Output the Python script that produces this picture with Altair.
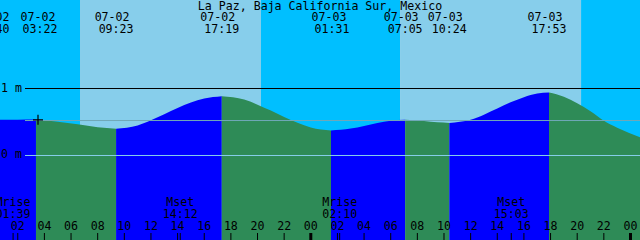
import altair as alt
import pandas as pd

# ---------------- data (hours since 07-02 00:00, levels in metres) ----------------
title_text = "La Paz, Baja California Sur, Mexico"

# tide extremes
ext_times = [0.667, 3.367, 9.383, 17.317, 25.517, 31.083, 34.4, 41.883]
ext_levels = [0.532, 0.538, 0.400, 0.885, 0.375, 0.535, 0.486, 0.940]
ext_kinds = ["low", "high", "low", "high", "low", "high", "low", "high"]
ext_dates = ["07-02", "07-02", "07-02", "07-02", "07-03", "07-03", "07-03", "07-03"]
ext_clock = ["00:40", "03:22", "09:23", "17:19", "01:31", "07:05", "10:24", "17:53"]

# water level read between the extremes
mid_times = [2.0, 5, 6.5, 8, 11, 12, 13, 14, 15, 16, 19, 20, 21, 22, 23, 24,
             27, 28, 29, 30, 32.5, 33.5, 36, 37, 38, 39, 40, 41, 43, 44, 45, 46, 47, 48.715]
mid_levels = [0.535, 0.505, 0.465, 0.420, 0.447, 0.525, 0.615, 0.708, 0.790, 0.850,
              0.834, 0.759, 0.670, 0.576, 0.487, 0.417,
              0.402, 0.442, 0.486, 0.520, 0.516, 0.495, 0.532, 0.609, 0.700, 0.793,
              0.870, 0.925, 0.877, 0.780, 0.660, 0.517, 0.415, 0.274]

# day / night
sky_start = [0.667, 6.673, 20.26, 30.70, 44.29]
sky_end = [6.673, 20.26, 30.70, 44.29, 48.715]
sky_kind = ["night", "day", "night", "day", "night"]

# moon events
moon_times = [1.65, 14.2, 26.167, 39.05]
moon_kind = ["Mrise", "Mset", "Mrise", "Mset"]
moon_clock = ["01:39", "14:12", "02:10", "15:03"]

# hour ticks
tick_hours = [2, 4, 6, 8, 10, 12, 14, 16, 18, 20, 22, 24,
              26, 28, 30, 32, 34, 36, 38, 40, 42, 44, 46, 48]
tick_labels = ["02", "04", "06", "08", "10", "12", "14", "16", "18", "20", "22", "00",
               "02", "04", "06", "08", "10", "12", "14", "16", "18", "20", "22", "00"]

depth_levels = [1.0, 0.0]
depth_labels = ["1 m", "0 m"]
depth_colors = ["#000000", "#87CEEB"]
msl_level = 0.522
mark_time = 3.52
mark_level = 0.532

# ---------------- layout ----------------
X_DOMAIN = [0.667, 48.715]
Y_DOMAIN = [-1.2612, 2.3209]
PX_PER_HOUR = 640 / (X_DOMAIN[1] - X_DOMAIN[0])
FONT = "DejaVu Sans Mono"
FS = 11.6
# horizontal nudges (px) of the top labels, as placed in the reference
date_shift_px = [-8, 2, -4, -4, -2, -4, -4, -4]
time_shift_px = [-8, 4, 0, 0, 1, 0, 0, 0]

xs = alt.Scale(domain=X_DOMAIN, nice=False, zero=False)
ys = alt.Scale(domain=Y_DOMAIN, nice=False, zero=False)

# ---------------- build tables ----------------
samples = sorted(list(zip(ext_times, ext_levels)) + list(zip(mid_times, mid_levels)))
rows = []
for i, et in enumerate(ext_times):
    end = ext_times[i + 1] if i + 1 < len(ext_times) else 1e9
    phase = "rise" if ext_kinds[i] == "low" else "fall"
    for t, h in samples:
        if et <= t <= end:
            rows.append({"t": t, "h": h, "seg": i, "phase": phase})
water_df = pd.DataFrame(rows)

sky_df = pd.DataFrame({"start": sky_start, "end": sky_end, "kind": sky_kind})
ext_df = pd.DataFrame({
    "td": [t + s / PX_PER_HOUR for t, s in zip(ext_times, date_shift_px)],
    "tt": [t + s / PX_PER_HOUR for t, s in zip(ext_times, time_shift_px)],
    "date": ext_dates, "clock": ext_clock})
moon_df = pd.DataFrame({"t": moon_times, "kind": moon_kind, "clock": moon_clock})
tick_df = pd.DataFrame({"t": tick_hours, "label": tick_labels,
                        "w": [3 if l == "00" else 1 for l in tick_labels]})
depth_df = pd.DataFrame({"h": depth_levels, "label": depth_labels, "col": depth_colors})
msl_df = pd.DataFrame({"h": [msl_level]})
mark_df = pd.DataFrame({"t": [mark_time], "h": [mark_level]})
title_df = pd.DataFrame({"text": [title_text]})


def txt(df, align="center", baseline="alphabetic"):
    return alt.Chart(df).mark_text(align=align, baseline=baseline, font=FONT,
                                   fontSize=FS, color="black")


# ---------------- layers ----------------
sky = alt.Chart(sky_df).mark_rect().encode(
    x=alt.X("start:Q", scale=xs, axis=None),
    x2="end:Q",
    y=alt.value(0), y2=alt.value(240),
    color=alt.Color("kind:N", scale=alt.Scale(domain=["day", "night"],
                                              range=["#87CEEB", "#00BFFF"]), legend=None),
)

water = alt.Chart(water_df).mark_area(interpolate="monotone").encode(
    x=alt.X("t:Q", scale=xs, axis=None),
    y=alt.Y("h:Q", scale=ys, axis=None, stack=None),
    y2=alt.value(240),
    color=alt.Color("phase:N", scale=alt.Scale(domain=["rise", "fall"],
                                               range=["#0000FF", "#2E8B57"]), legend=None),
    detail="seg:N",
)

msl = alt.Chart(msl_df).mark_rule(color="#70A8B8", strokeWidth=1).encode(
    y=alt.Y("h:Q", scale=ys, axis=None),
    x=alt.value(25), x2=alt.value(640),
)

depth = alt.Chart(depth_df).mark_rule(strokeWidth=1).encode(
    y=alt.Y("h:Q", scale=ys, axis=None),
    x=alt.value(25), x2=alt.value(640),
    color=alt.Color("col:N", scale=None),
)

depth_txt = txt(depth_df, align="left", baseline="middle").encode(
    y=alt.Y("h:Q", scale=ys, axis=None),
    x=alt.value(1),
    text="label:N",
)

title = txt(title_df).encode(x=alt.value(320), y=alt.value(9.5), text="text:N")

ext_date_txt = txt(ext_df).encode(
    x=alt.X("td:Q", scale=xs, axis=None), y=alt.value(20.7), text="date:N")
ext_time_txt = txt(ext_df).encode(
    x=alt.X("tt:Q", scale=xs, axis=None), y=alt.value(33.3), text="clock:N")

moon_kind_txt = txt(moon_df).encode(
    x=alt.X("t:Q", scale=xs, axis=None), y=alt.value(206), text="kind:N")
moon_time_txt = txt(moon_df).encode(
    x=alt.X("t:Q", scale=xs, axis=None), y=alt.value(218.3), text="clock:N")
moon_ticks = alt.Chart(moon_df).mark_rule(color="black", strokeWidth=1).encode(
    x=alt.X("t:Q", scale=xs, axis=None), y=alt.value(233), y2=alt.value(240))

hour_txt = txt(tick_df).encode(
    x=alt.X("t:Q", scale=xs, axis=None), y=alt.value(230), text="label:N")
hour_ticks = alt.Chart(tick_df).mark_rule(color="black").encode(
    x=alt.X("t:Q", scale=xs, axis=None), y=alt.value(233), y2=alt.value(240),
    strokeWidth=alt.StrokeWidth("w:Q", scale=None))

marker = alt.Chart(mark_df).mark_point(shape="M-1,0H1M0,-1V1", size=100,
                                       stroke="black", strokeWidth=1.2, filled=False,
                                       opacity=1).encode(
    x=alt.X("t:Q", scale=xs, axis=None),
    y=alt.Y("h:Q", scale=ys, axis=None))

chart = alt.layer(
    sky, water, msl, depth, depth_txt, title,
    ext_date_txt, ext_time_txt, moon_kind_txt, moon_time_txt,
    moon_ticks, hour_txt, hour_ticks, marker,
).resolve_scale(color="independent").properties(
    width=640, height=240, padding=0, autosize=alt.AutoSizeParams(type="none"),
).configure_view(stroke=None)

chart.save("out.html", embed_options={"renderer": "svg", "actions": False})
